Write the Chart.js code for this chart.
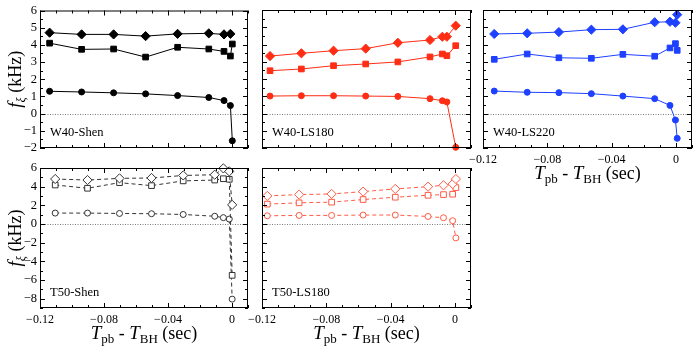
<!DOCTYPE html>
<html>
<head>
<meta charset="utf-8">
<script src="https://cdn.jsdelivr.net/npm/chart.js@4.4.1/dist/chart.umd.min.js"></script>
<style>
  html, body { margin: 0; padding: 0; background: #fff; }
  #wrap { position: relative; width: 699px; height: 349px; overflow: hidden; }
  #wrap canvas { position: absolute; left: 0; top: 0; }
</style>
</head>
<body>
<div id="wrap">
  <canvas id="w40-shen" width="699" height="349"></canvas>
  <canvas id="w40-ls180" width="699" height="349"></canvas>
  <canvas id="w40-ls220" width="699" height="349"></canvas>
  <canvas id="t50-shen" width="699" height="349"></canvas>
  <canvas id="t50-ls180" width="699" height="349"></canvas>
</div>
<script>
// tick labels
const xTickValues = [-0.12, -0.08, -0.04, 0];
const yTicksTop = [-2, -1, 0, 1, 2, 3, 4, 5, 6];
const yTicksBottom = [-8, -6, -4, -2, 0, 2, 4, 6];

// W40-Shen (filled, black)
const timeW40Shen = [-0.114, -0.094, -0.074, -0.054, -0.034, -0.0145, -0.005, -0.001, 0.0002];
const w40ShenDiamond = [4.71, 4.61, 4.61, 4.51, 4.64, 4.67, 4.61, 4.64];
const w40ShenSquare = [4.10, 3.74, 3.76, 3.29, 3.86, 3.76, 3.62, 3.35, 4.05];
const w40ShenCircle = [1.30, 1.26, 1.21, 1.15, 1.05, 0.94, 0.76, 0.47, -1.58];

// W40-LS180 (filled, red)
const timeW40LS180 = [-0.115, -0.0955, -0.0755, -0.0555, -0.0355, -0.0155, -0.0078, -0.005, 0.0005];
const w40LS180Diamond = [3.33, 3.49, 3.64, 3.76, 4.10, 4.26, 4.45, 4.45, 5.09];
const w40LS180Square = [2.48, 2.58, 2.77, 2.87, 2.99, 3.28, 3.45, 3.35, 3.93];
const w40LS180Circle = [1.01, 1.03, 1.03, 1.01, 0.99, 0.86, 0.74, 0.67, -1.96];

// W40-LS220 (filled, blue)
const timeW40LS220 = [-0.113, -0.0925, -0.0728, -0.0526, -0.033, -0.0132, -0.0037, -0.0003, 0.0008];
const w40LS220Diamond = [4.61, 4.65, 4.72, 4.86, 4.88, 5.29, 5.32, 5.26, 5.73];
const w40LS220Square = [3.14, 3.45, 3.23, 3.20, 3.43, 3.32, 3.80, 4.05, 3.66];
const w40LS220Circle = [1.30, 1.23, 1.21, 1.15, 1.01, 0.86, 0.47, -0.38, -1.44];

// T50-Shen (open, black dashed)
const timeT50Shen = [-0.1105, -0.0903, -0.0703, -0.0503, -0.0305, -0.0108, -0.0054, -0.0017, 0.0001];
const t50ShenDiamond = [4.82, 4.71, 4.89, 4.93, 5.20, 5.28, 5.96, 5.64, 2.05];
const t50ShenSquare = [4.18, 3.83, 4.43, 4.11, 4.62, 4.71, 4.85, 4.79, -5.50];
const t50ShenCircle = [1.17, 1.17, 1.13, 1.10, 1.02, 0.83, 0.68, 0.53, -8.05];

// T50-LS180 (open, red dashed)
const timeT50LS180 = [-0.1167, -0.0969, -0.0767, -0.0571, -0.0371, -0.0167, -0.0071, -0.0014, 0.0006];
const t50LS180Diamond = [3.01, 3.15, 3.22, 3.47, 3.76, 4.00, 4.15, 4.29, 4.82];
const t50LS180Square = [2.13, 2.27, 2.34, 2.62, 2.87, 3.08, 3.15, 3.19, 3.90];
const t50LS180Circle = [0.88, 0.92, 0.92, 0.96, 0.96, 0.81, 0.67, 0.35, -1.49];

const FONT = "'Liberation Serif', 'Times New Roman', serif";
const W = 699, H = 349;
const X_MIN = -0.12, X_MAX = 0.01, X_MINOR = 0.01;

const panels = [
    { id: 'w40-shen', box: [40, 10, 248, 148], yMin: -2, yMax: 6, yTicks: yTicksTop, yMinor: 0.5,
      showY: true, showX: false, yTitle: true, xTitle: false, label: 'W40-Shen',
      color: '#000000', open: false, time: timeW40Shen,
      series: [w40ShenDiamond, w40ShenSquare, w40ShenCircle] },
    { id: 'w40-ls180', box: [262, 10, 471, 148], yMin: -2, yMax: 6, yTicks: yTicksTop, yMinor: 0.5,
      showY: false, showX: false, yTitle: false, xTitle: false, label: 'W40-LS180',
      color: '#ff2d14', open: false, time: timeW40LS180,
      series: [w40LS180Diamond, w40LS180Square, w40LS180Circle] },
    { id: 'w40-ls220', box: [483, 10, 692, 148], yMin: -2, yMax: 6, yTicks: yTicksTop, yMinor: 0.5,
      showY: false, showX: true, yTitle: false, xTitle: true, label: 'W40-LS220',
      color: '#1e40ff', open: false, time: timeW40LS220,
      series: [w40LS220Diamond, w40LS220Square, w40LS220Circle] },
    { id: 't50-shen', box: [40, 168, 248, 308], yMin: -9, yMax: 6, yTicks: yTicksBottom, yMinor: 1,
      showY: true, showX: true, yTitle: true, xTitle: true, label: 'T50-Shen',
      color: '#333333', open: true, time: timeT50Shen,
      series: [t50ShenDiamond, t50ShenSquare, t50ShenCircle] },
    { id: 't50-ls180', box: [262, 168, 471, 308], yMin: -9, yMax: 6, yTicks: yTicksBottom, yMinor: 1,
      showY: false, showX: true, yTitle: false, xTitle: true, label: 'T50-LS180',
      color: '#ff5a44', open: true, time: timeT50LS180,
      series: [t50LS180Diamond, t50LS180Square, t50LS180Circle] }
];

const markers = [
    { style: 'rectRot', radius: 4.6 },
    { style: 'rect', radius: 4.0 },
    { style: 'circle', radius: 3.0 }
];

function fmt(v) {
    const s = Math.abs(v) < 1e-9 ? '0' : String(+v.toFixed(2));
    return s.replace('-', '\u2212');
}

// draw a row of text pieces (italic / subscript) centred on 0
function drawPieces(ctx, pieces) {
    let total = 0;
    pieces.forEach(p => {
        ctx.font = (p.italic ? 'italic ' : '') + p.size + 'px ' + FONT;
        p.w = ctx.measureText(p.text).width;
        total += p.w;
    });
    let u = -total / 2;
    pieces.forEach(p => {
        ctx.font = (p.italic ? 'italic ' : '') + p.size + 'px ' + FONT;
        ctx.fillText(p.text, u, p.dy || 0);
        u += p.w;
    });
}

const framePlugin = {
    id: 'frame',
    beforeDatasetsDraw(chart) {
        const { ctx, chartArea: a } = chart;
        const y0 = Math.round(chart.scales.y.getPixelForValue(0)) + 0.5;
        ctx.save();
        ctx.strokeStyle = '#7a7a7a';
        ctx.lineWidth = 1;
        ctx.setLineDash([1, 1.5]);
        ctx.beginPath();
        ctx.moveTo(a.left, y0);
        ctx.lineTo(a.right, y0);
        ctx.stroke();
        ctx.restore();
    },
    afterDraw(chart, args, opts) {
        const { ctx, chartArea: a } = chart;
        const xs = chart.scales.x, ys = chart.scales.y;
        ctx.save();
        ctx.strokeStyle = '#000';
        ctx.lineWidth = 1;
        ctx.strokeRect(a.left + 0.5, a.top + 0.5, a.right - a.left - 1, a.bottom - a.top - 1);

        ctx.beginPath();
        // x ticks, top and bottom, inward
        for (let i = 0; X_MIN + i * X_MINOR <= X_MAX + 1e-9; i++) {
            const v = X_MIN + i * X_MINOR;
            const px = Math.round(xs.getPixelForValue(v)) + 0.5;
            const len = i % 4 === 0 ? 5 : 3;
            ctx.moveTo(px, a.bottom); ctx.lineTo(px, a.bottom - len);
            ctx.moveTo(px, a.top); ctx.lineTo(px, a.top + len);
        }
        // y ticks, left and right, inward
        for (let v = opts.yMin; v <= opts.yMax + 1e-9; v += opts.yMinor) {
            const py = Math.round(ys.getPixelForValue(v)) + 0.5;
            const major = opts.yTicks.some(t => Math.abs(t - v) < 1e-6);
            const len = major ? 5 : 3;
            ctx.moveTo(a.left, py); ctx.lineTo(a.left + len, py);
            ctx.moveTo(a.right, py); ctx.lineTo(a.right - len, py);
        }
        ctx.stroke();

        // panel label
        ctx.fillStyle = '#000';
        ctx.font = '12.5px ' + FONT;
        ctx.textAlign = 'left';
        ctx.textBaseline = 'alphabetic';
        ctx.fillText(opts.label, a.left + 10, a.bottom - 12);

        // y title
        if (opts.yTitle) {
            ctx.save();
            ctx.translate(21, (a.top + a.bottom) / 2);
            ctx.rotate(-Math.PI / 2);
            drawPieces(ctx, [
                { text: 'f', size: 19, italic: true },
                { text: '\u03be', size: 12, italic: true, dy: 4 },
                { text: ' (kHz)', size: 18 }
            ]);
            ctx.restore();
        }
        // x title
        if (opts.xTitle) {
            ctx.save();
            ctx.translate((a.left + a.right) / 2, a.bottom + 31);
            drawPieces(ctx, [
                { text: 'T', size: 19, italic: true },
                { text: 'pb', size: 13, dy: 4 },
                { text: ' - ', size: 18 },
                { text: 'T', size: 19, italic: true },
                { text: 'BH', size: 13, dy: 4 },
                { text: ' (sec)', size: 18 }
            ]);
            ctx.restore();
        }
        ctx.restore();
    }
};

function buildChart(p) {
    const [left, top, right, bottom] = p.box;
    const datasets = p.series.map((vals, k) => ({
        data: vals.map((v, i) => ({ x: p.time[i], y: v })),
        showLine: true,
        borderColor: p.color,
        borderWidth: 1,
        borderDash: p.open ? [4, 3] : [],
        pointStyle: markers[k].style,
        pointRadius: markers[k].radius,
        pointBorderWidth: 1,
        pointBorderColor: p.color,
        pointBackgroundColor: p.open ? '#ffffff' : p.color,
        clip: false
    }));

    new Chart(document.getElementById(p.id), {
        type: 'scatter',
        data: { datasets },
        plugins: [framePlugin],
        options: {
            responsive: false,
            animation: false,
            events: [],
            layout: { padding: { left: 0, top: top, right: W - right, bottom: 0 } },
            scales: {
                x: {
                    type: 'linear',
                    min: X_MIN,
                    max: X_MAX,
                    grid: { display: false, drawTicks: false },
                    border: { display: false },
                    afterBuildTicks: s => { s.ticks = xTickValues.map(v => ({ value: v })); },
                    afterFit: s => { s.height = H - bottom; },
                    ticks: {
                        display: p.showX,
                        padding: 5,
                        maxRotation: 0,
                        autoSkip: false,
                        color: '#000',
                        font: { family: FONT, size: 12 },
                        callback: v => fmt(v)
                    }
                },
                y: {
                    type: 'linear',
                    min: p.yMin,
                    max: p.yMax,
                    grid: { display: false, drawTicks: false },
                    border: { display: false },
                    afterBuildTicks: s => { s.ticks = p.yTicks.map(v => ({ value: v })); },
                    afterFit: s => { s.width = left; },
                    ticks: {
                        display: p.showY,
                        padding: 3,
                        autoSkip: false,
                        color: '#000',
                        font: { family: FONT, size: 12.5 },
                        callback: v => fmt(v)
                    }
                }
            },
            plugins: {
                legend: { display: false },
                tooltip: { enabled: false },
                frame: {
                    label: p.label, yTitle: p.yTitle, xTitle: p.xTitle,
                    yMin: p.yMin, yMax: p.yMax, yMinor: p.yMinor, yTicks: p.yTicks
                }
            }
        }
    });
}

panels.forEach(buildChart);
</script>
</body>
</html>
